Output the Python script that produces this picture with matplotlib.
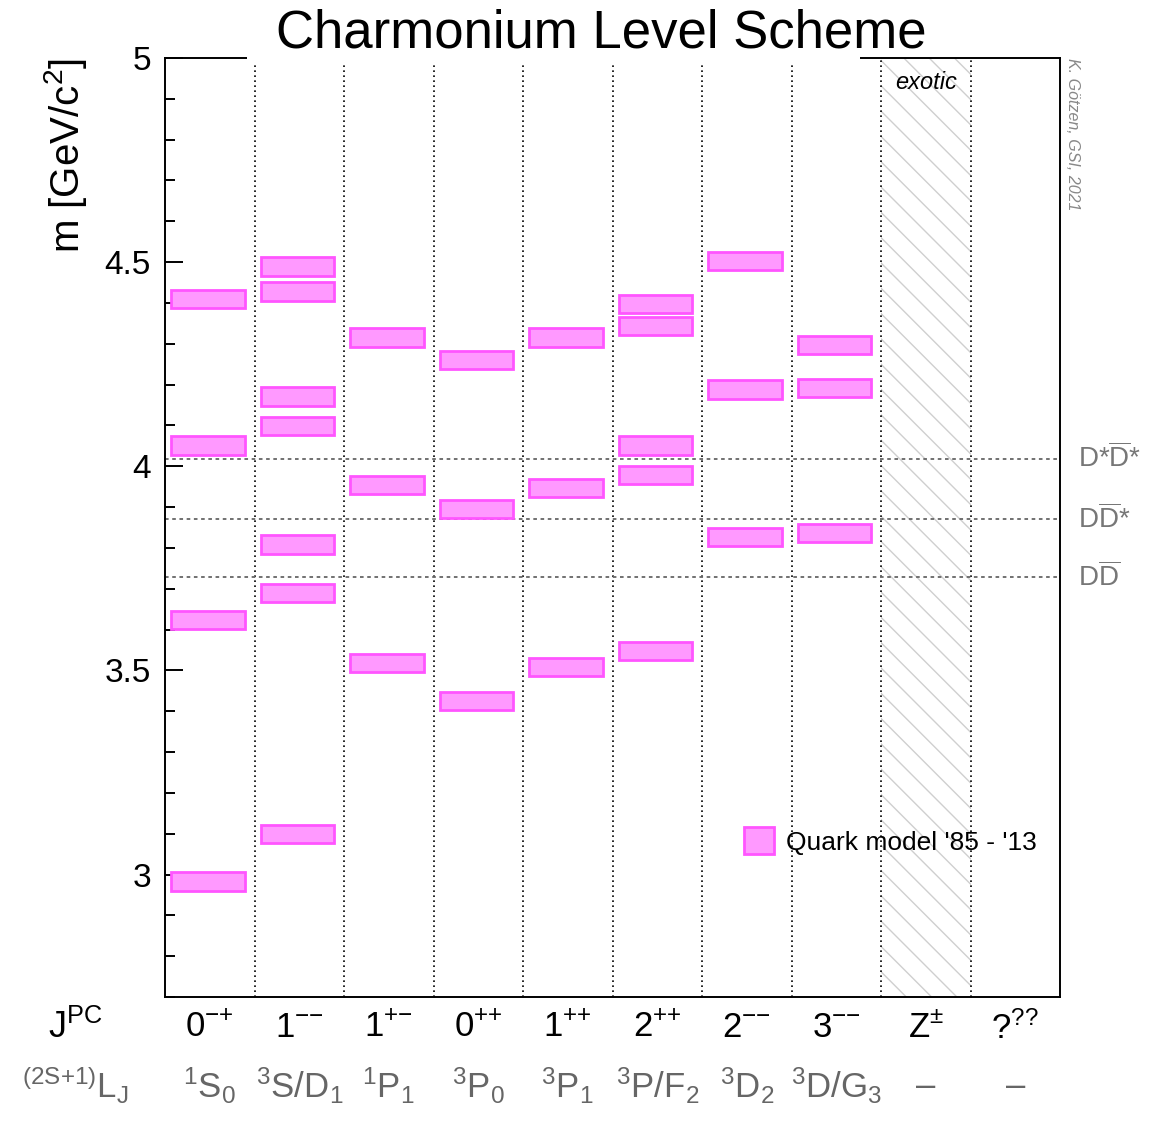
import numpy as np
import matplotlib.pyplot as plt
import matplotlib.transforms as mtransforms
from matplotlib.patches import Rectangle
from matplotlib.ticker import MultipleLocator

plt.rcParams['font.family'] = ['Liberation Sans', 'DejaVu Sans']
plt.rcParams['mathtext.fontset'] = 'custom'
plt.rcParams['mathtext.rm'] = 'Liberation Sans'
plt.rcParams['mathtext.it'] = 'Liberation Sans:italic'
plt.rcParams['mathtext.default'] = 'regular'

# quantum numbers per column
jpc = [r'$0^{{-}{+}}$', r'$1^{{-}{-}}$', r'$1^{{+}{-}}$', r'$0^{{+}{+}}$',
       r'$1^{{+}{+}}$', r'$2^{{+}{+}}$', r'$2^{{-}{-}}$', r'$3^{{-}{-}}$',
       r'$Z^{\pm}$', r'$?^{??}$']
terms = [r'$^1S_0$', r'$^3S/D_1$', r'$^1P_1$', r'$^3P_0$', r'$^3P_1$',
         r'$^3P/F_2$', r'$^3D_2$', r'$^3D/G_3$', '–', '–']

# quark model masses [GeV/c^2], one list per column
m_0mp = [2.983, 3.624, 4.051, 4.409]
m_1mm = [3.099, 3.689, 3.808, 4.099, 4.171, 4.428, 4.489]
m_1pm = [3.518, 3.954, 4.315]
m_0pp = [3.425, 3.896, 4.261]
m_1pp = [3.508, 3.947, 4.315]
m_2pp = [3.547, 3.978, 4.051, 4.344, 4.398]
m_2mm = [3.826, 4.188, 4.503]
m_3mm = [3.837, 4.192, 4.297]
masses = [m_0mp, m_1mm, m_1pm, m_0pp, m_1pp, m_2pp, m_2mm, m_3mm, [], []]

# open charm thresholds
thr_mass = [4.019, 3.870, 3.729]
thr_label = [r'$D{*}\overline{D}{*}$', r'$D\overline{D}{*}$', r'$D\overline{D}$']

exotic_col = 8
bar_h = 0.045

fig = plt.figure(figsize=(11.52, 11.24), dpi=100)
ax = fig.add_axes([165/1152, 127/1124, 895/1152, 939/1124])

xs, ys = [], []
for i, col in enumerate(masses):
    for m in col:
        xs.append(i + 0.07)
        ys.append(m - bar_h/2)
ax.bar(xs, bar_h, bottom=ys, width=0.82, align='edge',
       facecolor='#ff99ff', edgecolor='#ff55ff', linewidth=2,
       label="Quark model '85 - '13", zorder=3)

# hatched "exotic" column, 45 deg lines clipped to the column
span = ax.axvspan(exotic_col, exotic_col + 1, facecolor='none', linewidth=0)
dy = 89.5 / 408.0
for y0 in np.arange(2.7, 5.0 + dy, 0.062):
    ln, = ax.plot([exotic_col, exotic_col + 1], [y0, y0 - dy],
                  color='#cfcfcf', lw=1.0, zorder=1)
    ln.set_clip_path(span)

for i in range(1, 10):
    ax.axvline(i, color='black', ls=(0, (1, 2)), lw=1.2, zorder=2)

for m, lab in zip(thr_mass, thr_label):
    ax.axhline(m, color='#666666', ls=(0, (2, 2)), lw=1.3, zorder=2)
    ax.text(1.02, m, lab, transform=ax.get_yaxis_transform(), ha='left',
            va='center', fontsize=20, color='#777777')

ax.set_xlim(0, 10)
ax.set_ylim(2.7, 5.0)
ax.yaxis.set_major_locator(MultipleLocator(0.5))
ax.yaxis.set_minor_locator(MultipleLocator(0.1))
ax.tick_params(axis='y', which='major', direction='in', length=13, width=1.4,
               labelsize=24, pad=10)
ax.tick_params(axis='y', which='minor', direction='in', length=7, width=1.4)
ax.set_yticks([3, 3.5, 4, 4.5, 5], ['3', '3.5', '4', '4.5', '5'])
for s in ax.spines.values():
    s.set_linewidth(1.4)

ax.set_xticks(np.arange(10) + 0.5, jpc)
ax.tick_params(axis='x', length=0, labelsize=25, pad=10)

trans = mtransforms.blended_transform_factory(ax.transData, ax.transAxes)
for i, t in enumerate(terms):
    ax.text(i + 0.5, -0.095, t, transform=trans, ha='center', va='center',
            fontsize=25, color='#666666')

ax.set_ylabel(r'm [GeV/c$^{2}$]', loc='top', fontsize=29)
ax.yaxis.set_label_coords(-0.085, 1.0)

ax.text(exotic_col + 0.5, 4.941, 'exotic', ha='center', va='center',
        style='italic', fontsize=17)

ax.legend(loc='center left', bbox_to_anchor=((744-165)/895, (997-841)/939),
          frameon=False, fontsize=19, handlelength=1.15, handleheight=1.15,
          borderpad=0, borderaxespad=0, handletextpad=0.45)

# title pad hides part of the top frame
fig.patches.append(Rectangle((247/1152, 1 - 62/1124), (860-247)/1152, 8/1124,
                             transform=fig.transFigure, facecolor='white',
                             edgecolor='none', zorder=5))
fig.text(601/1152, 1 - 33/1124, 'Charmonium Level Scheme', ha='center',
         va='center', fontsize=38, zorder=6)
fig.text(75/1152, 1 - 1028/1124, r'$J^{PC}$', ha='center', va='center',
         fontsize=26)
fig.text(75/1152, 1 - 1085/1124, r'$^{(2S{+}1)}L_J$', ha='center',
         va='center', fontsize=25, color='#666666')
fig.text(1072/1152, 1 - 58/1124, 'K. Götzen, GSI, 2021', rotation=-90,
         ha='center', va='top', fontsize=11.5, style='italic', color='#888888')

fig.savefig('out.png', dpi=100)
